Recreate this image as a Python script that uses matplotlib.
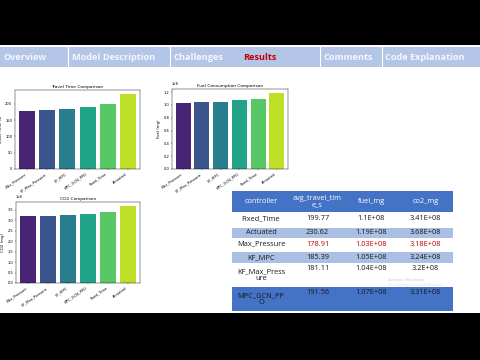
import matplotlib
matplotlib.use("Agg")
import matplotlib.pyplot as plt
import numpy as np
from matplotlib.patches import Rectangle

# ---------------- data ----------------
tabs = ["Overview", "Model Description", "Challenges", "Results", "Comments", "Code Explanation"]
bar_controllers = ["Max_Pressure", "KF_Max_Pressure", "KF_MPC", "MPC_GCN_PPO", "Fixed_Time", "Actuated"]
bar_travel = [178.91, 181.11, 185.39, 191.56, 199.77, 230.62]
bar_fuel = [1.03e8, 1.04e8, 1.05e8, 1.07e8, 1.10e8, 1.19e8]
bar_co2 = [3.18e8, 3.20e8, 3.24e8, 3.31e8, 3.41e8, 3.68e8]

table_header = ["controller", "avg_travel_tim\ne_s", "fuel_mg", "co2_mg"]
table_controllers = ["Fixed_Time", "Actuated", "Max_Pressure", "KF_MPC", "KF_Max_Press\nure", "MPC_GCN_PP\nO"]
table_travel = ["199.77", "230.62", "178.91", "185.39", "181.11", "191.56"]
table_fuel = ["1.1E+08", "1.19E+08", "1.03E+08", "1.05E+08", "1.04E+08", "1.07E+08"]
table_co2 = ["3.41E+08", "3.68E+08", "3.18E+08", "3.24E+08", "3.2E+08", "3.31E+08"]

W, H = 480, 360
fig = plt.figure(figsize=(4.8, 3.6), dpi=100, facecolor="black")

def add_ax(x0, y0, x1, y1, **kw):
    return fig.add_axes([x0 / W, 1 - y1 / H, (x1 - x0) / W, (y1 - y0) / H], **kw)

# overlay for slide background, header, table
bg = add_ax(0, 0, W, H)
bg.set_xlim(0, W)
bg.set_ylim(H, 0)
bg.axis("off")
bg.set_zorder(0)
bg.add_patch(Rectangle((0, 45), W, 268, facecolor="white", edgecolor="none"))
bg.add_patch(Rectangle((0, 47), W, 20, facecolor="#b4c6e7", edgecolor="none"))
for sx in [68, 170, 320, 382]:
    bg.plot([sx, sx], [47, 67], color="white", lw=0.8)
tab_x = [3, 72, 174, 243, 323, 385]
for t, x in zip(tabs, tab_x):
    bg.text(x, 58, t, ha="left", va="center", fontsize=6.6, fontweight="bold",
            family="Open Sans", color="#c00000" if t == "Results" else "#f4f7fc")

# ---------------- bar charts ----------------
cols = [plt.cm.viridis(p) for p in np.linspace(0.1, 0.9, 6)]
x = np.arange(len(bar_controllers))

def bar_chart(box, vals, title, ylabel, yticks, sci):
    ax = add_ax(*box)
    ax.set_zorder(2)
    ax.bar(x, vals, color=cols, width=0.8)
    ax.set_title(title, fontsize=3.2, pad=1.5)
    ax.set_ylabel(ylabel, fontsize=2.8, labelpad=1.5)
    ax.set_xticks(x)
    ax.set_xticklabels(bar_controllers, rotation=35, ha="right", fontsize=2.6)
    ax.set_yticks(yticks)
    ax.tick_params(axis="both", labelsize=2.6, length=1, width=0.3, pad=1)
    if sci:
        ax.ticklabel_format(axis="y", style="sci", scilimits=(0, 0))
        ax.yaxis.get_offset_text().set_fontsize(2.6)
    for s in ax.spines.values():
        s.set_linewidth(0.3)
    ax.set_xlim(-0.6, 5.6)
    return ax

bar_chart((15, 90, 140, 169), bar_travel, "Travel Time Comparison", "Travel Time (s)",
          [0, 50, 100, 150, 200], False)
a2 = bar_chart((172, 89, 288, 169), bar_fuel, "Fuel Consumption Comparison", "Fuel (mg)",
               np.arange(0, 1.21e8, 0.2e8), True)
a3 = bar_chart((16, 202, 140, 283), bar_co2, "CO2 Comparison", "CO2 (mg)",
               np.arange(0, 3.51e8, 0.5e8), True)

# ---------------- table ----------------
tb = add_ax(0, 0, W, H)
tb.set_xlim(0, W)
tb.set_ylim(H, 0)
tb.axis("off")
tb.set_zorder(3)
tb.patch.set_alpha(0)
col_edges = [232, 290, 345, 398, 453]
col_centers = [(a + b) / 2 for a, b in zip(col_edges[:-1], col_edges[1:])]
dark = "#4472c4"
light = "#a9bfe3"
rows_y = [(212, 226, "white"), (228, 238, light), (238, 250, "white"),
          (252, 263, light), (263, 287, "white"), (287, 311, dark)]
tb.add_patch(Rectangle((232, 191), 221, 21, facecolor=dark, edgecolor="none"))
for cx, h in zip(col_centers, table_header):
    tb.text(cx, 201.5, h, ha="center", va="center", fontsize=5.3, family="Open Sans",
            color="white", linespacing=1.0)
for i, (y0, y1, c) in enumerate(rows_y):
    if c != "white":
        tb.add_patch(Rectangle((232, y0), 221, y1 - y0, facecolor=c, edgecolor="none"))
    vals = [table_controllers[i], table_travel[i], table_fuel[i], table_co2[i]]
    for j, (cx, v) in enumerate(zip(col_centers, vals)):
        color = "#c00000" if (table_controllers[i] == "Max_Pressure" and j > 0) else "#1a1a1a"
        yy = (y0 + y1) / 2
        if j > 0 and "\n" in table_controllers[i]:
            yy = y0 + 6
        tb.text(cx, yy, v, ha="center", va="center", fontsize=5.3, family="Open Sans",
                color=color, linespacing=1.0)
tb.text(388, 281, "Activate Windows", fontsize=3.2, color="#c8c8c8", family="Open Sans")
tb.text(388, 286, "Go to Settings to activate Windows.", fontsize=2.4, color="#d8d8d8", family="Open Sans")

fig.savefig("out.png", dpi=100, facecolor="black")
